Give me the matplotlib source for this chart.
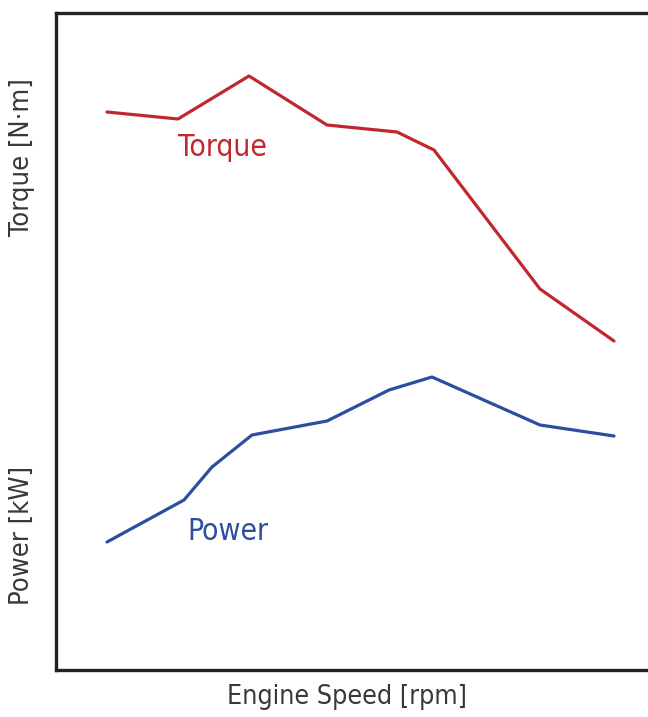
import matplotlib
matplotlib.use("Agg")
import matplotlib.pyplot as plt

# engine speed positions (arbitrary units, no ticks shown)
torque_x = [51, 122, 193, 271, 341, 378, 484, 558]
torque_y = [558, 551, 594, 545, 538, 520, 381, 329]
power_x = [51, 128, 156, 196, 271, 333, 376, 484, 558]
power_y = [128, 170, 203, 235, 249, 280, 293, 245, 234]

red = "#c0282d"
blue = "#2b4f9f"
fnt = dict(family="DejaVu Sans", stretch="condensed")

fig = plt.figure(figsize=(6.48, 7.17), dpi=100)
ax = fig.add_axes([56 / 648, 47 / 717, 1.0, 657 / 717])

ax.plot(torque_x, torque_y, color=red, lw=2.3, solid_capstyle="round")
ax.plot(power_x, power_y, color=blue, lw=2.3, solid_capstyle="round")
ax.set_xlim(0, 648)
ax.set_ylim(0, 657)
ax.set_xticks([])
ax.set_yticks([])
for s in ax.spines.values():
    s.set_linewidth(2.4)
    s.set_color("#222222")

ax.text(166, 522, "Torque", color=red, fontsize=21.5, ha="center", va="center", **fnt)
ax.text(172, 139, "Power", color=blue, fontsize=21.5, ha="center", va="center", **fnt)

fig.text(347 / 648, 1 - 697 / 717, "Engine Speed [rpm]", fontsize=19.3,
         ha="center", va="center", color="#383838", **fnt)
fig.text(22 / 648, 1 - 157 / 717, "Torque [N·m]", fontsize=19.5,
         ha="center", va="center", rotation=90, color="#383838", **fnt)
fig.text(22 / 648, 1 - 535 / 717, "Power [kW]", fontsize=19.5,
         ha="center", va="center", rotation=90, color="#383838", **fnt)

fig.savefig("out.png", dpi=100)
